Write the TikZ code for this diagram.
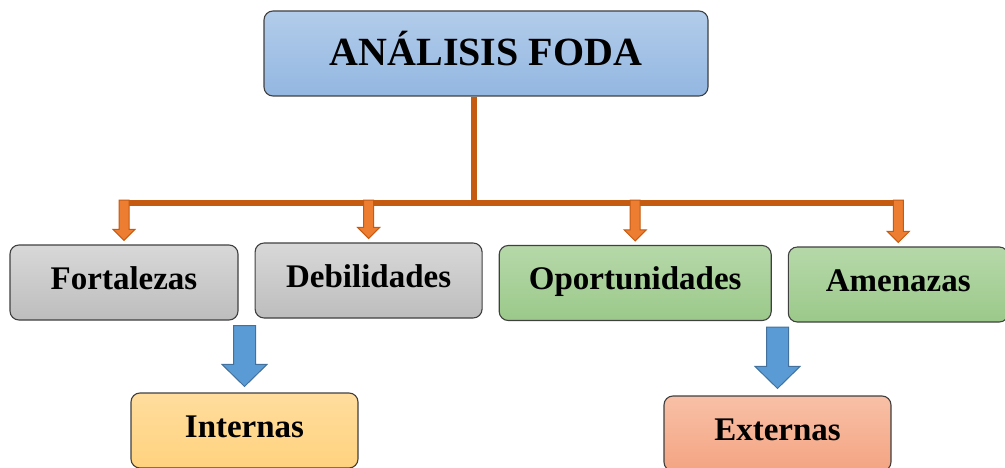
\documentclass[tikz,border=0pt]{standalone}
\usepackage{fontspec}
\setmainfont{Liberation Serif}
\usetikzlibrary{positioning,calc}

\definecolor{fodablueA}{HTML}{B2CCEA}
\definecolor{fodablueB}{HTML}{93B7E1}
\definecolor{grayA}{HTML}{D8D8D8}
\definecolor{grayB}{HTML}{BDBDBD}
\definecolor{greenA}{HTML}{B6D8A9}
\definecolor{greenB}{HTML}{9BC98A}
\definecolor{internA}{HTML}{FFDD9E}
\definecolor{internB}{HTML}{FFD27E}
\definecolor{externA}{HTML}{F8C0A7}
\definecolor{externB}{HTML}{F4A482}
\definecolor{branchorange}{HTML}{C55A11}
\definecolor{arroworange}{HTML}{ED7D31}
\definecolor{arrowblue}{HTML}{5B9BD5}
\definecolor{arrowblueline}{HTML}{41719C}

% block arrow pointing down: style, start, tip, half shaft, half head, head length
\newcommand{\downblock}[6]{%
  \draw[#1] let \p1=(#2), \p2=(#3) in
    (\x1-#4,\y1) -- (\x1+#4,\y1) -- (\x1+#4,\y2+#6) -- (\x1+#5,\y2+#6)
    -- (\x1,\y2) -- (\x1-#5,\y2+#6) -- (\x1-#4,\y2+#6) -- cycle;}

\begin{document}
\begin{tikzpicture}[
    x=1pt, y=1pt,
    block/.style={rectangle, draw=black!75, line width=1.1pt, rounded corners=9pt, inner sep=0pt, text centered, font=\fontsize{33}{36}\selectfont\bfseries, text height=23pt, text depth=10pt, minimum width=227pt, minimum height=75pt},
    title/.style={block, top color=fodablueA, bottom color=fodablueB, minimum width=444pt, minimum height=85pt, font=\fontsize{40}{44}\selectfont\bfseries, text height=36pt, text depth=11pt},
    graybox/.style={block, top color=grayA, bottom color=grayB},
    greenbox/.style={block, top color=greenA, bottom color=greenB},
    internbox/.style={block, top color=internA, bottom color=internB},
    externbox/.style={block, top color=externA, bottom color=externB},
    branch/.style={draw=branchorange, line width=6pt},
    smallarrow/.style={fill=arroworange, draw=branchorange, line width=1pt},
    bigarrow/.style={fill=arrowblue, draw=arrowblueline, line width=1pt}
]
    \useasboundingbox (0,0) rectangle (1005,467);

    \node [title] (foda) at (486,413.5) {ANÁLISIS FODA};
    \node [graybox, minimum width=228pt] (fort) at (124,184.5) {Fortalezas};
    \node [graybox, right=16pt of fort, yshift=2pt] (debil) {Debilidades};
    \node [greenbox, minimum width=272pt, right=16pt of debil, yshift=-2.5pt] (oport) {Oportunidades};
    \node [greenbox, minimum width=220pt, right=16pt of oport, yshift=-1.5pt] (amen) {Amenazas};
    \node [internbox] (intern) at (244.5,36.5) {Internas};
    \node [externbox] (extern) at (777.5,33.5) {Externas};

    \coordinate (hub) at (474,264);
    \draw [branch] (foda.south -| hub) -- (hub);
    \draw [branch, line cap=rect] (hub -| fort) -- (hub -| amen);
    \foreach \b in {fort,debil,oport,amen} {
        \downblock{smallarrow}{$(hub -| \b)+(0,3)$}{$(\b.north)+(0,4)$}{5pt}{11pt}{11pt}
    }

    \downblock{bigarrow}{$(intern.north |- fort.south)+(0,-5)$}{$(intern.north)+(0,6)$}{11pt}{22.5pt}{22pt}
    \downblock{bigarrow}{$(extern.north |- oport.south)+(0,-6)$}{$(extern.north)+(0,7)$}{11pt}{22.5pt}{22pt}
\end{tikzpicture}
\end{document}
